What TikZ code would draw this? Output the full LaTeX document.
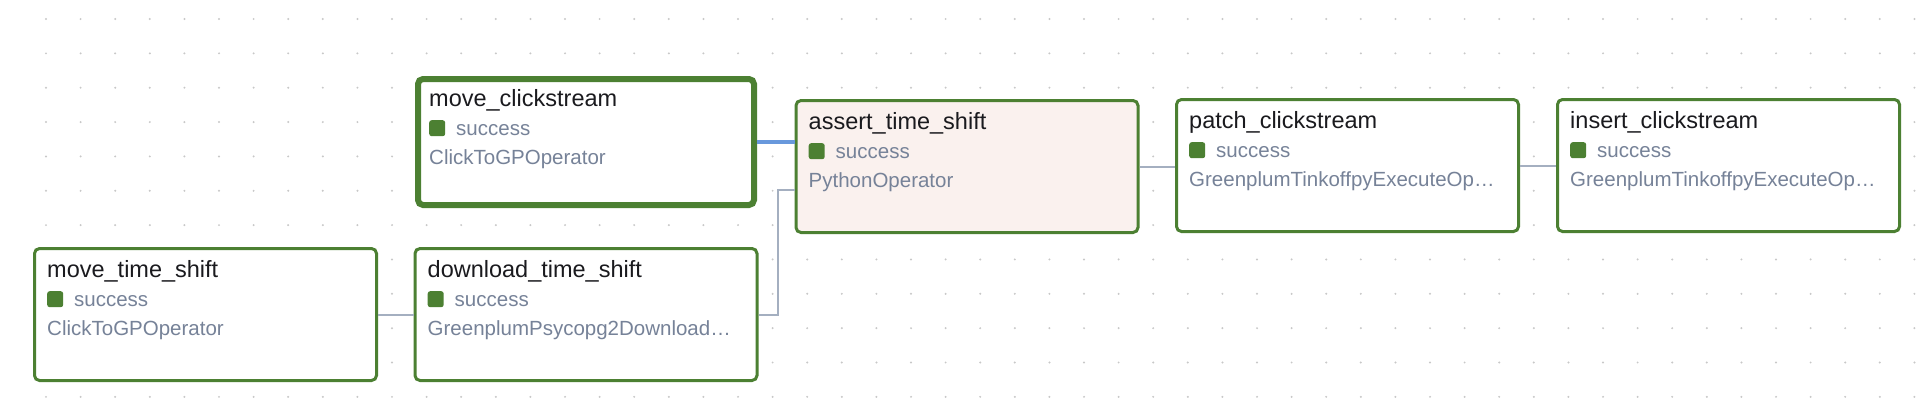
\documentclass[tikz,border=0pt]{standalone}
\usepackage{fontspec}
\setmainfont{Liberation Sans}
\usetikzlibrary{calc}
\definecolor{okgreen}{RGB}{76,128,50}
\definecolor{ttlc}{RGB}{26,26,30}
\definecolor{subc}{RGB}{118,130,152}
\definecolor{edgegray}{RGB}{164,175,192}
\definecolor{edgeblue}{RGB}{104,152,220}
\definecolor{pinkfill}{RGB}{250,241,238}
\definecolor{dotc}{RGB}{200,200,200}
\newcommand\dagtask[6]{%
  \node[taskbox,#6] (#1) at (#2,#3) {};
  \node[titletext] (#1-t) at ($(#1.north west)+(14,30)$) {#4};
  \node[statebox] (#1-s) at ($(#1.north west)+(14,44)$) {};
  \node[subtext] (#1-st) at ($(#1.north west)+(41,59)$) {success};
  \node[subtext] (#1-o) at ($(#1.north west)+(14,88)$) {#5};
}
\begin{document}
\begin{tikzpicture}[x=1pt,y=-1pt,
  taskbox/.style={draw=okgreen, line width=3pt, rounded corners=5pt, fill=white,
    minimum width=342pt, minimum height=132pt, inner sep=0pt},
  thickbox/.style={line width=6pt, minimum width=336pt, minimum height=126pt},
  pinkbox/.style={fill=pinkfill},
  titletext/.style={anchor=base west, inner sep=0pt, text=ttlc,
    font=\fontsize{23.5pt}{28pt}\selectfont},
  subtext/.style={anchor=base west, inner sep=0pt, text=subc,
    font=\fontsize{20.5pt}{24pt}\selectfont},
  statebox/.style={anchor=north west, fill=okgreen, rounded corners=2.5pt,
    minimum width=16pt, minimum height=16pt, inner sep=0pt},
  edge/.style={draw=edgegray, line width=2pt},
  hiedge/.style={draw=edgeblue, line width=3.5pt}]
\useasboundingbox (0,0) rectangle (1930,410);
\fill[white] (0,0) rectangle (1930,410);
\foreach \i in {0,...,54}{
  \foreach \j in {0,...,11}{
    \fill[dotc] ({46+\i*34.6},{19+\j*34.35}) circle (1.1pt);
  }
}
\dagtask{mts}{205.5}{314.5}{move\_time\_shift}{ClickToGPOperator}{}
\dagtask{dts}{586}{314.5}{download\_time\_shift}{GreenplumPsycopg2Download…}{}
\dagtask{mcs}{586}{142}{move\_clickstream}{ClickToGPOperator}{thickbox}
\dagtask{ats}{967}{166.5}{assert\_time\_shift}{PythonOperator}{pinkbox}
\dagtask{pcs}{1347.5}{165.5}{patch\_clickstream}{GreenplumTinkoffpyExecuteOp…}{}
\dagtask{ics}{1728.5}{165.5}{insert\_clickstream}{GreenplumTinkoffpyExecuteOp…}{}
\coordinate (atsin) at ([yshift=-23.5pt]ats.west);
\draw[edge] (mts.east) -- (dts.west);
\draw[edge] (dts.east) -- ++(19,0) |- (atsin);
\draw[hiedge] (mcs.east) -- (mcs.east -| ats.west);
\draw[edge] (ats.east) -- (ats.east -| pcs.west);
\draw[edge] (pcs.east) -- (pcs.east -| ics.west);
\end{tikzpicture}
\end{document}
